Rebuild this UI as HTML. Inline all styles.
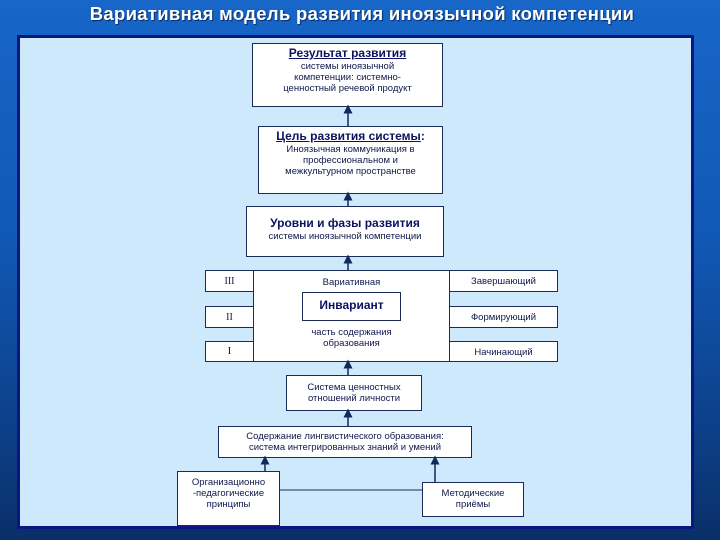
<!DOCTYPE html>
<html><head><meta charset="utf-8"><style>
html,body{margin:0;padding:0}
body{width:720px;height:540px;position:relative;overflow:hidden;
background:linear-gradient(180deg,#1766c8 0%,#1158b4 45%,#0c3f88 80%,#0a2f68 100%);
font-family:"Liberation Sans","DejaVu Sans",sans-serif;}
.title{position:absolute;left:0;width:724px;top:3px;text-align:center;color:#fff;font-weight:bold;font-size:18.5px;letter-spacing:0.3px;text-shadow:1px 1px 1px #0a2a60}
.panel{position:absolute;left:17px;top:35px;width:671px;height:488px;background:#cde9fb;border:3px solid #0b1680}
.b{position:absolute;box-sizing:border-box;background:#fff;border:1px solid #1b2b58;color:#10184a;text-align:center;font-size:9.5px;line-height:11px}
.h{font-weight:bold;font-size:12px;line-height:15px;color:#0b1260}
.u{text-decoration:underline}
svg{position:absolute;left:0;top:0}
</style></head><body>
<div class="title">Вариативная модель развития иноязычной компетенции</div>
<div class="panel"></div>
<div class="b" style="left:252px;top:43px;width:191px;height:64px;padding-top:2px"><div class="h u">Результат развития</div>системы иноязычной<br>компетенции: системно-<br>ценностный речевой продукт</div>
<div class="b" style="left:258px;top:126px;width:185px;height:68px;padding-top:2px"><div class="h"><span class="u">Цель развития системы</span>:</div>Иноязычная коммуникация в<br>профессиональном и<br>межкультурном пространстве</div>
<div class="b" style="left:246px;top:206px;width:198px;height:51px;padding-top:9px"><div class="h">Уровни и фазы развития</div>системы иноязычной компетенции</div>
<div class="b" style="left:205px;top:270px;width:49px;height:22px;padding-top:5px;font-family:'Liberation Serif',serif;font-size:10px">III</div>
<div class="b" style="left:205px;top:306px;width:49px;height:22px;padding-top:5px;font-family:'Liberation Serif',serif;font-size:10px">II</div>
<div class="b" style="left:205px;top:341px;width:49px;height:21px;padding-top:4px;font-family:'Liberation Serif',serif;font-size:11px">I</div>
<div class="b" style="left:253px;top:270px;width:197px;height:92px;padding-top:6px">Вариативная<div style="height:39px"></div>часть содержания<br>образования</div>
<div class="b" style="left:302px;top:292px;width:99px;height:29px;padding-top:5px"><span class="h">Инвариант</span></div>
<div class="b" style="left:449px;top:270px;width:109px;height:22px;padding-top:5px">Завершающий</div>
<div class="b" style="left:449px;top:306px;width:109px;height:22px;padding-top:5px">Формирующий</div>
<div class="b" style="left:449px;top:341px;width:109px;height:21px;padding-top:5px">Начинающий</div>
<div class="b" style="left:286px;top:375px;width:136px;height:36px;padding-top:6px">Система ценностных<br>отношений личности</div>
<div class="b" style="left:218px;top:426px;width:254px;height:32px;padding-top:4px">Содержание лингвистического образования:<br>система интегрированных знаний и умений</div>
<div class="b" style="left:177px;top:471px;width:103px;height:55px;padding-top:5px">Организационно<br>-педагогические<br>принципы</div>
<div class="b" style="left:422px;top:482px;width:102px;height:35px;padding-top:5px">Методические<br>приёмы</div>
<svg width="720" height="540">
<defs><marker id="a" markerWidth="6" markerHeight="6" refX="3" refY="3" orient="auto"><path d="M0,0 L6,3 L0,6 z" fill="#0e2a5a"/></marker></defs>
<g stroke="#0e2a5a" stroke-width="1.5" fill="none">
<line x1="348" y1="126" x2="348" y2="109" marker-end="url(#a)"/>
<line x1="348" y1="206" x2="348" y2="196" marker-end="url(#a)"/>
<line x1="348" y1="270" x2="348" y2="259" marker-end="url(#a)"/>
<line x1="348" y1="375" x2="348" y2="364" marker-end="url(#a)"/>
<line x1="348" y1="426" x2="348" y2="413" marker-end="url(#a)"/>
<line x1="265" y1="471" x2="265" y2="460" marker-end="url(#a)"/>
<line x1="435" y1="482" x2="435" y2="460" marker-end="url(#a)"/>
</g>
<line x1="280" y1="490" x2="422" y2="490" stroke="#1b2b58" stroke-width="1"/>
</svg>
</body></html>
